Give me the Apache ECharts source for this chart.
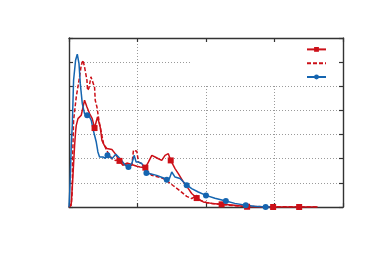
<!DOCTYPE html>
<html>
<head>
<meta charset="utf-8">
<script src="https://cdn.jsdelivr.net/npm/echarts@6/dist/echarts.min.js"></script>
<style>
  html, body { margin: 0; padding: 0; background: #fff; }
  #main { width: 370px; height: 256px; }
</style>
</head>
<body>
<div id="main"></div>
<script>
// series A: red solid with square markers
const redX = [0, 0.033, 0.058, 0.082, 0.096, 0.106, 0.131, 0.179, 0.204, 0.227, 0.262, 0.3, 0.339, 0.373,
  0.416, 0.456, 0.481, 0.514, 0.553, 0.626, 0.674, 0.737, 0.786, 0.845, 0.903, 0.99, 1.038, 1.115,
  1.159, 1.209, 1.257, 1.305, 1.354, 1.402, 1.45, 1.485, 1.548, 1.596, 1.669, 1.742, 1.791, 1.864,
  1.96, 2.08, 2.228, 2.42, 2.6, 2.98, 3.36, 3.63];
const redY = [0, 0.14, 1.31, 2.56, 3.11, 3.38, 3.66, 3.8, 4.14, 4.42, 4.14, 3.87, 3.66, 3.27,
  3.73, 3.31, 2.76, 2.56, 2.42, 2.38, 2.21, 1.91, 1.73, 1.82, 1.77, 1.69, 1.66, 1.63,
  1.86, 2.14, 2.07, 2.0, 1.93, 2.14, 2.21, 1.93, 1.59, 1.38, 1.04, 0.76, 0.56, 0.37,
  0.21, 0.15, 0.11, 0.07, 0.01, 0, 0, 0];
const redMarks = [13, 21, 27, 35, 41, 44, 46, 47, 48];

// series B: red dashed, no markers
const dashX = [0, 0.033, 0.048, 0.052, 0.067, 0.106, 0.146, 0.179, 0.204, 0.227, 0.262, 0.271, 0.291, 0.32,
  0.339, 0.373, 0.383, 0.408, 0.437, 0.456, 0.504, 0.562, 0.626, 0.674, 0.737, 0.805, 0.859, 0.917,
  0.941, 0.99, 1.014, 1.063, 1.111, 1.209, 1.305, 1.378, 1.45, 1.523, 1.621, 1.718, 1.791, 1.864,
  1.912, 2.01, 2.203, 2.4, 2.59, 3.63];
const dashY = [0, 0.07, 0.69, 1.93, 3.59, 4.56, 5.25, 5.87, 6.08, 5.8, 5.25, 4.83, 4.92, 5.39,
  5.33, 4.97, 4.42, 4.14, 3.59, 3.31, 2.63, 2.28, 2.0, 1.93, 1.96, 1.77, 1.73, 1.73,
  2.35, 2.31, 1.86, 1.8, 1.59, 1.31, 1.24, 1.18, 1.04, 0.88, 0.67, 0.44, 0.35, 0.48,
  0.28, 0.18, 0.11, 0.06, 0.02, 0];

// series C: blue solid with circle markers
const blueX = [0, 0.01, 0.02, 0.033, 0.048, 0.067, 0.096, 0.121, 0.146, 0.165, 0.194, 0.227, 0.265, 0.3,
  0.325, 0.35, 0.373, 0.398, 0.422, 0.446, 0.495, 0.529, 0.562, 0.626, 0.684, 0.747, 0.82, 0.868,
  0.917, 0.951, 0.98, 1.014, 1.038, 1.063, 1.13, 1.184, 1.281, 1.38, 1.427, 1.465, 1.5, 1.548,
  1.621, 1.694, 1.718, 1.791, 1.887, 2.0, 2.13, 2.29, 2.42, 2.58, 2.71, 2.87, 2.95];
const blueY = [0, 0.6, 1.35, 2.56, 3.39, 5.25, 6.08, 6.33, 5.94, 5.11, 4.28, 3.87, 3.8, 3.73,
  3.59, 3.25, 2.97, 2.69, 2.28, 2.07, 2.07, 2.02, 2.14, 2.0, 2.18, 2.0, 1.73, 1.66,
  1.8, 2.14, 1.86, 1.86, 1.93, 1.8, 1.41, 1.38, 1.31, 1.2, 1.13, 1.17, 1.45, 1.24,
  1.18, 0.97, 0.9, 0.76, 0.62, 0.48, 0.36, 0.25, 0.15, 0.07, 0.03, 0, 0];
const blueMarks = [12, 22, 27, 34, 38, 44, 47, 49, 51, 53];

const names = ['A', 'B', 'C'];
const RED = '#cc1018';
const BLUE = '#1565b0';
const FRAME = '#333';

function pts(xs, ys, marks) {
  return xs.map((x, i) => ({
    value: [x, ys[i]],
    symbol: marks && marks.includes(i) ? undefined : 'none'
  }));
}

const xRange = { min: 0, max: 4, interval: 1 };
const yRange = { min: 0, max: 7, interval: 1 };
const gridLine = { show: true, lineStyle: { color: '#9a9a9a', width: 1, type: [1, 2] } };
const frameAxis = (pos) => ({
  position: pos, z: 3,
  axisLine: { show: true, onZero: false, lineStyle: { color: FRAME, width: 1.4 } },
  axisTick: { show: true, inside: true, length: 4, lineStyle: { color: FRAME, width: 1.2 } },
  axisLabel: { show: false },
  splitLine: { show: false }
});

const chart = echarts.init(document.getElementById('main'));
chart.setOption({
  animation: false,
  grid: { left: 69, top: 38, width: 274, height: 169 },
  legend: {
    orient: 'vertical',
    left: 191, top: 39,
    padding: [8, 12, 6, 115],
    backgroundColor: '#fff',
    z: 1,
    itemWidth: 19, itemHeight: 6, itemGap: 9,
    formatter: () => '',
    textStyle: { fontSize: 6, lineHeight: 6 },
    data: [
      { name: names[0] },
      { name: names[1], itemStyle: { opacity: 0 } },
      { name: names[2] }
    ]
  },
  xAxis: [
    Object.assign({ type: 'value', position: 'bottom', z: 0, axisLine: { show: false }, axisTick: { show: false },
      axisLabel: { show: false }, splitLine: gridLine }, xRange),
    Object.assign({ type: 'value' }, xRange, frameAxis('bottom')),
    Object.assign({ type: 'value' }, xRange, frameAxis('top'))
  ],
  yAxis: [
    Object.assign({ type: 'value', position: 'left', z: 0, axisLine: { show: false }, axisTick: { show: false },
      axisLabel: { show: false }, splitLine: gridLine }, yRange),
    Object.assign({ type: 'value' }, yRange, frameAxis('left')),
    Object.assign({ type: 'value' }, yRange, frameAxis('right'))
  ],
  series: [
    {
      name: names[0], type: 'line', symbol: 'rect', symbolSize: 6,
      lineStyle: { color: RED, width: 1.5 }, itemStyle: { color: RED },
      data: pts(redX, redY, redMarks)
    },
    {
      name: names[1], type: 'line', symbol: 'none',
      lineStyle: { color: RED, width: 1.5, type: [4, 2] }, itemStyle: { color: RED },
      data: pts(dashX, dashY, null)
    },
    {
      name: names[2], type: 'line', symbol: 'circle', symbolSize: 6,
      lineStyle: { color: BLUE, width: 1.5 }, itemStyle: { color: BLUE },
      data: pts(blueX, blueY, blueMarks)
    }
  ]
});
</script>
</body>
</html>
